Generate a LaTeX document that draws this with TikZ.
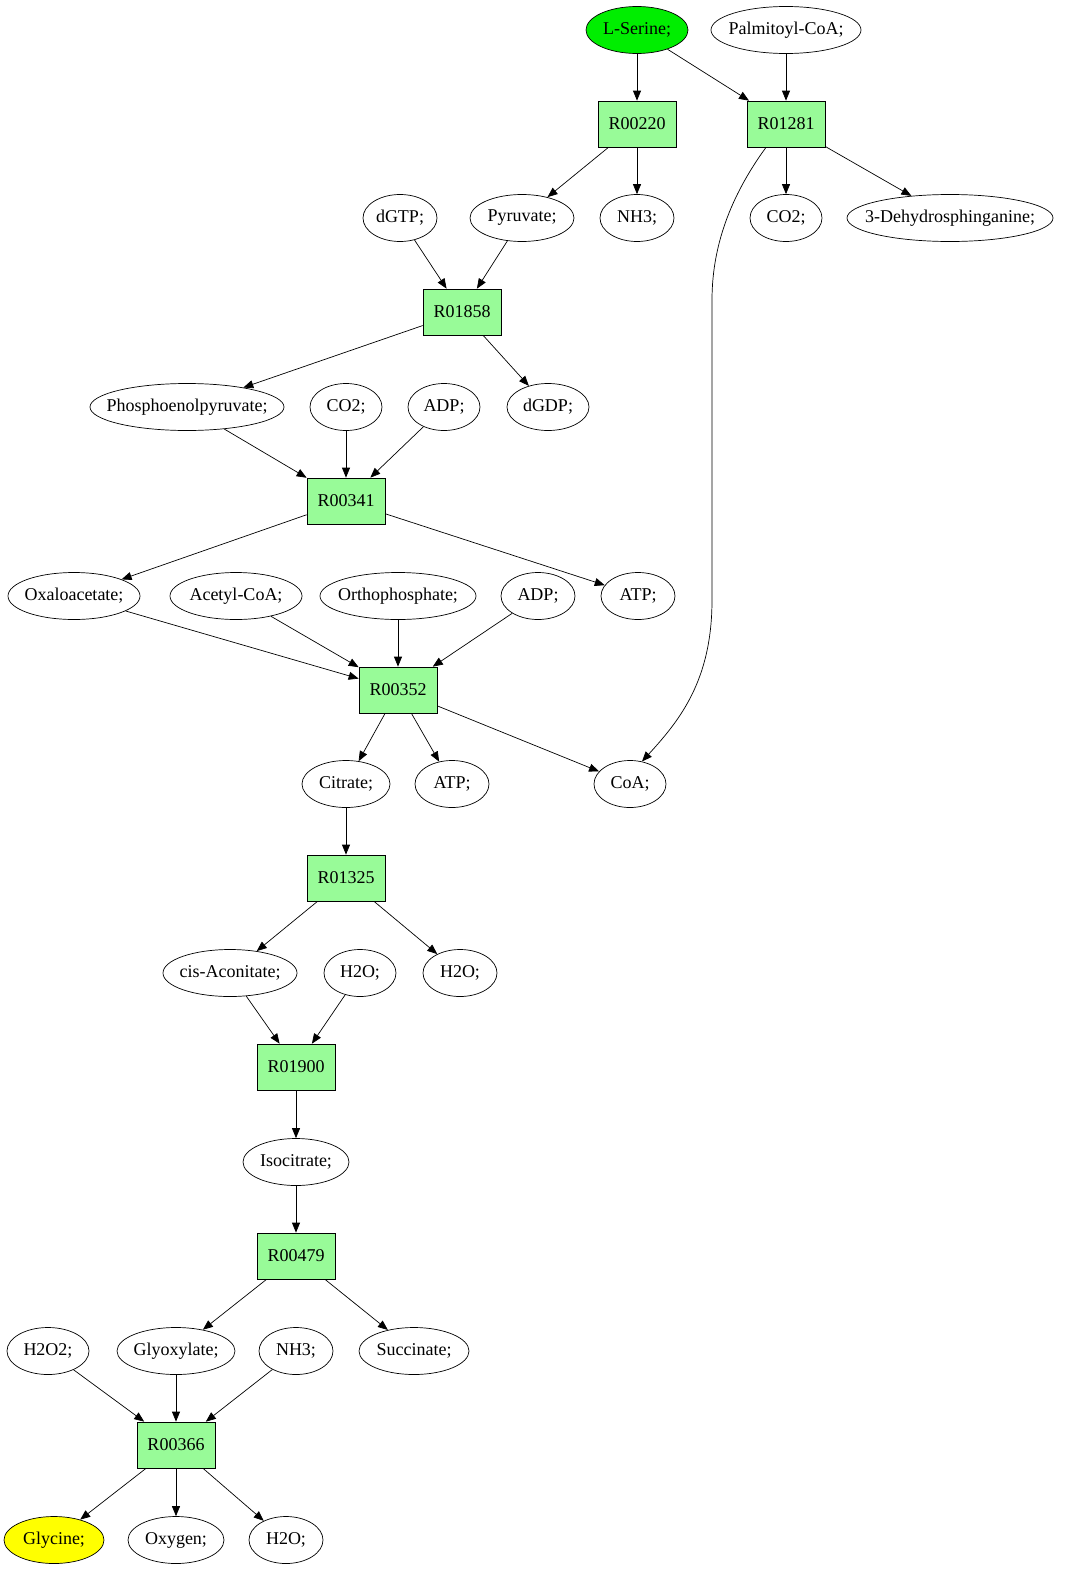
\documentclass[tikz,border=0pt]{standalone}
\usepackage{fontspec}
\setmainfont{Liberation Serif}
\usetikzlibrary{shapes.geometric,arrows.meta}
\definecolor{boxgreen}{HTML}{98FB98}
\definecolor{serinegreen}{HTML}{00EE00}
\definecolor{glyyellow}{HTML}{FFFF00}
\newcommand\zw[1]{\makebox[0pt]{#1}}
\tikzset{
  met/.style={ellipse, draw, line width=0.7pt, minimum height=47pt, inner sep=0pt, font=\fontsize{18}{18}\selectfont},
  rxn/.style={rectangle, draw, line width=0.7pt, fill=boxgreen, minimum width=78pt, minimum height=46pt, inner sep=0pt, font=\fontsize{18}{18}\selectfont},
  arr/.style={-{Triangle[length=10pt,width=8pt]}, line width=0.7pt},
}
\begin{document}
\begin{tikzpicture}[x=1pt,y=-1pt]
\useasboundingbox (0,0) rectangle (1076,1595);
% row 1
\node[met, fill=serinegreen, minimum width=102pt] (ser) at (637,30) {\zw{L-Serine;}};
\node[met, minimum width=150pt] (palm) at (786,30) {\zw{Palmitoyl-CoA;}};
% row 2
\node[rxn] (r00220) at (637,124) {R00220};
\node[rxn] (r01281) at (786,124) {R01281};
% row 3
\node[met, minimum width=74pt] (dgtp) at (400,218) {\zw{dGTP;}};
\node[met, minimum width=104pt] (pyr) at (522,218) {\zw{Pyruvate;}};
\node[met, minimum width=74pt] (nh3a) at (637,218) {\zw{NH3;}};
\node[met, minimum width=72pt] (co2a) at (786,218) {\zw{CO2;}};
\node[met, minimum width=206pt] (dehy) at (950,218) {\zw{3-Dehydrosphinganine;}};
% row 4
\node[rxn] (r01858) at (462,312) {R01858};
% row 5
\node[met, minimum width=194pt] (pep) at (187,407) {\zw{Phosphoenolpyruvate;}};
\node[met, minimum width=72pt] (co2b) at (346,407) {\zw{CO2;}};
\node[met, minimum width=72pt] (adpa) at (444,407) {\zw{ADP;}};
\node[met, minimum width=82pt] (dgdp) at (548,407) {\zw{dGDP;}};
% row 6
\node[rxn] (r00341) at (346,501) {R00341};
% row 7
\node[met, minimum width=132pt] (oxa) at (74,596) {\zw{Oxaloacetate;}};
\node[met, minimum width=132pt] (acoa) at (236,596) {\zw{Acetyl-CoA;}};
\node[met, minimum width=156pt] (orth) at (398,596) {\zw{Orthophosphate;}};
\node[met, minimum width=74pt] (adpb) at (538,596) {\zw{ADP;}};
\node[met, minimum width=74pt] (atpa) at (638,596) {\zw{ATP;}};
% row 8
\node[rxn] (r00352) at (398,690) {R00352};
% row 9
\node[met, minimum width=88pt] (cit) at (346,784) {\zw{Citrate;}};
\node[met, minimum width=74pt] (atpb) at (452,784) {\zw{ATP;}};
\node[met, minimum width=72pt] (coa) at (630,784) {\zw{CoA;}};
% row 10
\node[rxn] (r01325) at (346,878) {R01325};
% row 11
\node[met, minimum width=134pt] (cis) at (230,973) {\zw{cis-Aconitate;}};
\node[met, minimum width=72pt] (h2oa) at (360,973) {\zw{H2O;}};
\node[met, minimum width=74pt] (h2ob) at (460,973) {\zw{H2O;}};
% row 12
\node[rxn] (r01900) at (296,1067) {R01900};
% row 13
\node[met, minimum width=106pt] (iso) at (296,1162) {\zw{Isocitrate;}};
% row 14
\node[rxn] (r00479) at (296,1256) {R00479};
% row 15
\node[met, minimum width=82pt] (h2o2) at (48,1351) {\zw{H2O2;}};
\node[met, minimum width=118pt] (glx) at (176,1351) {\zw{Glyoxylate;}};
\node[met, minimum width=74pt] (nh3b) at (296,1351) {\zw{NH3;}};
\node[met, minimum width=110pt] (succ) at (414,1351) {\zw{Succinate;}};
% row 16
\node[rxn] (r00366) at (176,1445) {R00366};
% row 17
\node[met, fill=glyyellow, minimum width=100pt] (gly) at (54,1540) {\zw{Glycine;}};
\node[met, minimum width=96pt] (oxy) at (176,1540) {\zw{Oxygen;}};
\node[met, minimum width=74pt] (h2oc) at (286,1540) {\zw{H2O;}};

% edges
\draw[arr] (ser) -- (r00220);
\draw[arr] (ser) -- (r01281);
\draw[arr] (palm) -- (r01281);
\draw[arr] (r00220) -- (pyr);
\draw[arr] (r00220) -- (nh3a);
\draw[arr] (r01281) -- (co2a);
\draw[arr] (r01281) -- (dehy);
\draw[arr] ([xshift=-20pt]r01281.south) .. controls (735,190) and (712,240) .. (712,300)
   -- (712,600) .. controls (712,680) and (680,720) .. (coa.62);
\draw[arr] (dgtp) -- (r01858);
\draw[arr] (pyr) -- (r01858);
\draw[arr] (r01858) -- (pep);
\draw[arr] (r01858) -- (dgdp);
\draw[arr] (pep) -- (r00341);
\draw[arr] (co2b) -- (r00341);
\draw[arr] (adpa) -- (r00341);
\draw[arr] (r00341) -- (oxa);
\draw[arr] (r00341) -- (atpa);
\draw[arr] (oxa) -- (r00352);
\draw[arr] (acoa) -- (r00352);
\draw[arr] (orth) -- (r00352);
\draw[arr] (adpb) -- (r00352);
\draw[arr] (r00352) -- (cit);
\draw[arr] (r00352) -- (atpb);
\draw[arr] (r00352) -- (coa);
\draw[arr] (cit) -- (r01325);
\draw[arr] (r01325) -- (cis);
\draw[arr] (r01325) -- (h2ob);
\draw[arr] (cis) -- (r01900);
\draw[arr] (h2oa) -- (r01900);
\draw[arr] (r01900) -- (iso);
\draw[arr] (iso) -- (r00479);
\draw[arr] (r00479) -- (glx);
\draw[arr] (r00479) -- (succ);
\draw[arr] (h2o2) -- (r00366);
\draw[arr] (glx) -- (r00366);
\draw[arr] (nh3b) -- (r00366);
\draw[arr] (r00366) -- (gly);
\draw[arr] (r00366) -- (oxy);
\draw[arr] (r00366) -- (h2oc);
\end{tikzpicture}
\end{document}
